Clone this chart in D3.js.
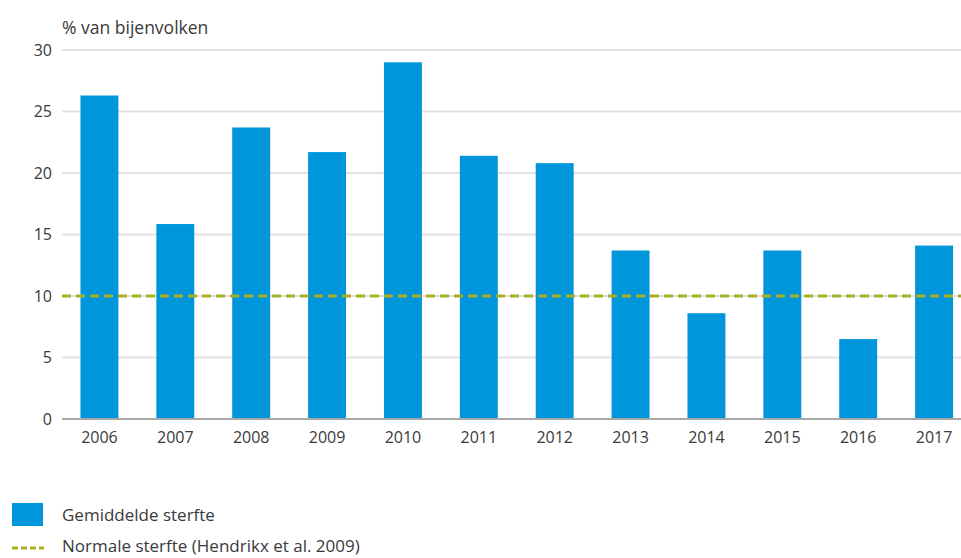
<!DOCTYPE html>
<html>
<head>
<meta charset="utf-8">
<script src="https://cdn.jsdelivr.net/npm/d3@7"></script>
<style>
  body { margin: 0; background: #fff; }
  text { font-family: "Open Sans", sans-serif; fill: #3a3a3a; }
</style>
</head>
<body>
<svg id="chart"></svg>
<script>
const years = ['2006', '2007', '2008', '2009', '2010', '2011', '2012', '2013', '2014', '2015', '2016', '2017'];
const mortality = [26.3, 15.85, 23.7, 21.7, 29.0, 21.4, 20.8, 13.7, 8.6, 13.7, 6.5, 14.1];
const normalMortality = 10;
const yTicks = [0, 5, 10, 15, 20, 25, 30];

const width = 961, height = 558;
const svg = d3.select('#chart')
    .attr('width', width)
    .attr('height', height);

// scales
const x = d3.scaleBand()
    .domain(years)
    .range([61.5, 972])
    .paddingInner(0.5)
    .paddingOuter(0.25);

const y = d3.scaleLinear()
    .domain([0, 30])
    .range([419, 50]);

// gridlines
svg.append('g')
    .selectAll('line')
    .data(yTicks.filter(d => d > 0))
    .enter()
    .append('line')
    .attr('x1', 62)
    .attr('x2', width)
    .attr('y1', d => y(d))
    .attr('y2', d => y(d))
    .style('stroke', '#e2e2e2')
    .style('stroke-width', 2);

// y tick labels
svg.append('g')
    .selectAll('text')
    .data(yTicks)
    .enter()
    .append('text')
    .attr('x', 52)
    .attr('y', d => y(d))
    .attr('dy', '0.35em')
    .attr('text-anchor', 'end')
    .style('font-size', '16px')
    .text(d => d);

// y title
svg.append('text')
    .attr('x', 62)
    .attr('y', 34)
    .style('font-size', '17.5px')
    .text('% van bijenvolken');

// bars
svg.append('g')
    .selectAll('rect')
    .data(mortality)
    .enter()
    .append('rect')
    .attr('x', (d, i) => x(years[i]))
    .attr('width', x.bandwidth())
    .attr('y', d => y(d))
    .attr('height', d => y(0) - y(d))
    .style('fill', '#0096db');

// baseline
svg.append('line')
    .attr('x1', 62)
    .attr('x2', width)
    .attr('y1', y(0))
    .attr('y2', y(0))
    .style('stroke', '#a8a8a8')
    .style('stroke-width', 2);

// normal mortality line
svg.append('line')
    .attr('x1', 62)
    .attr('x2', width)
    .attr('y1', y(normalMortality))
    .attr('y2', y(normalMortality))
    .style('stroke', '#a9b020')
    .style('stroke-width', 3)
    .style('stroke-dasharray', '9,5');

// x labels
svg.append('g')
    .selectAll('text')
    .data(years)
    .enter()
    .append('text')
    .attr('x', d => x(d) + x.bandwidth() / 2)
    .attr('y', 443)
    .attr('text-anchor', 'middle')
    .style('font-size', '16px')
    .text(d => d);

// legend
const legend = svg.append('g');
legend.append('rect')
    .attr('x', 12)
    .attr('y', 503)
    .attr('width', 31)
    .attr('height', 23)
    .style('fill', '#0096db');
legend.append('text')
    .attr('x', 62)
    .attr('y', 515)
    .attr('dy', '0.35em')
    .style('font-size', '17px')
    .text('Gemiddelde sterfte');
legend.append('line')
    .attr('x1', 12)
    .attr('x2', 44)
    .attr('y1', 548)
    .attr('y2', 548)
    .style('stroke', '#a9b020')
    .style('stroke-width', 3)
    .style('stroke-dasharray', '6,3');
legend.append('text')
    .attr('x', 62)
    .attr('y', 546)
    .attr('dy', '0.35em')
    .style('font-size', '17px')
    .text('Normale sterfte (Hendrikx et al. 2009)');
</script>
</body>
</html>
